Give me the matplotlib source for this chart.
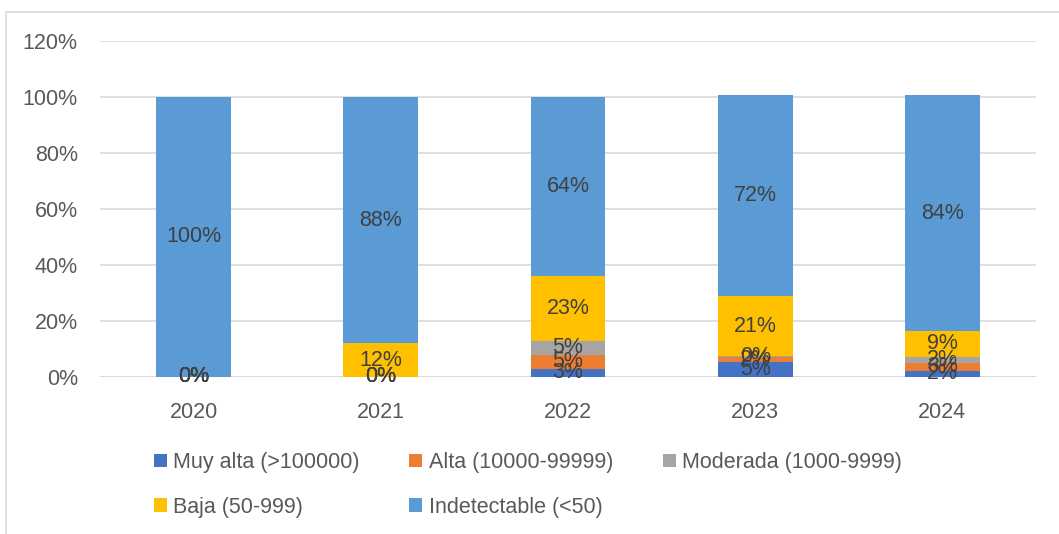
import matplotlib
matplotlib.use("Agg")
from matplotlib import pyplot as plt
from matplotlib.patches import Rectangle
import numpy as np

years = ["2020", "2021", "2022", "2023", "2024"]
series = ["Muy alta (>100000)", "Alta (10000-99999)", "Moderada (1000-9999)",
          "Baja (50-999)", "Indetectable (<50)"]
muy_alta = [0.0, 0.0, 2.9, 5.2, 2.2]
alta = [0.0, 0.0, 5.0, 2.0, 2.8]
moderada = [0.0, 0.0, 5.0, 0.3, 2.2]
baja = [0.0, 12.0, 23.0, 21.3, 9.2]
indetectable = [100.0, 88.0, 64.1, 71.8, 84.2]
colors = ["#4472C4", "#ED7D31", "#A5A5A5", "#FFC000", "#5B9BD5"]

plt.rcParams['font.family'] = ['Liberation Sans', 'DejaVu Sans']
fs = 15.5

fig = plt.figure(figsize=(10.59, 5.34), dpi=100)
ax = fig.add_axes([100/1059, 1-377/534, 936/1059, 336/534])

x = np.arange(len(years))
bottom = np.zeros(len(years))
handles = []
for name, vals, c in zip(series, [muy_alta, alta, moderada, baja, indetectable], colors):
    vals = np.array(vals)
    b = ax.bar(x, vals, 0.4, bottom=bottom, color=c, label=name, zorder=3)
    handles.append(b)
    for xi, v, bt in zip(x, vals, bottom):
        ax.text(xi, bt + v/2, f"{v:.0f}%", ha="center", va="center",
                fontsize=fs, color="#404040", zorder=4)
    bottom += vals

ax.set_xlim(-0.5, 4.5)
ax.set_ylim(0, 120)
ax.set_yticks(range(0, 121, 20))
ax.set_yticklabels([f"{t}%" for t in range(0, 121, 20)])
ax.set_xticks(x)
ax.set_xticklabels(years)
ax.yaxis.grid(True, color="#D9D9D9", linewidth=1.2, zorder=0)
ax.tick_params(length=0, labelsize=fs, labelcolor="#595959")
ax.tick_params(axis="y", pad=16)
ax.tick_params(axis="x", pad=18)
for s in ax.spines.values():
    s.set_visible(False)
ax.axhline(0, color="#D9D9D9", linewidth=1.2, zorder=2)

# legend: fill column-wise so rows read Muy/Alta/Moderada, Baja/Indetectable
order = [0, 3, 1, 4, 2]
fig.legend([handles[i] for i in order], [series[i] for i in order], ncol=3,
           loc="center", bbox_to_anchor=(528/1059, 1-485/534), frameon=False,
           fontsize=fs, labelcolor="#595959", handlelength=0.6, handleheight=0.6,
           handletextpad=0.3, columnspacing=2.3, labelspacing=1.1)

fig.patches.append(Rectangle((6/1059, -0.02), 1.0, 1-12/534+0.02, transform=fig.transFigure,
                             fill=False, edgecolor="#D9D9D9", linewidth=1.2))

fig.savefig("out.png", dpi=100)
